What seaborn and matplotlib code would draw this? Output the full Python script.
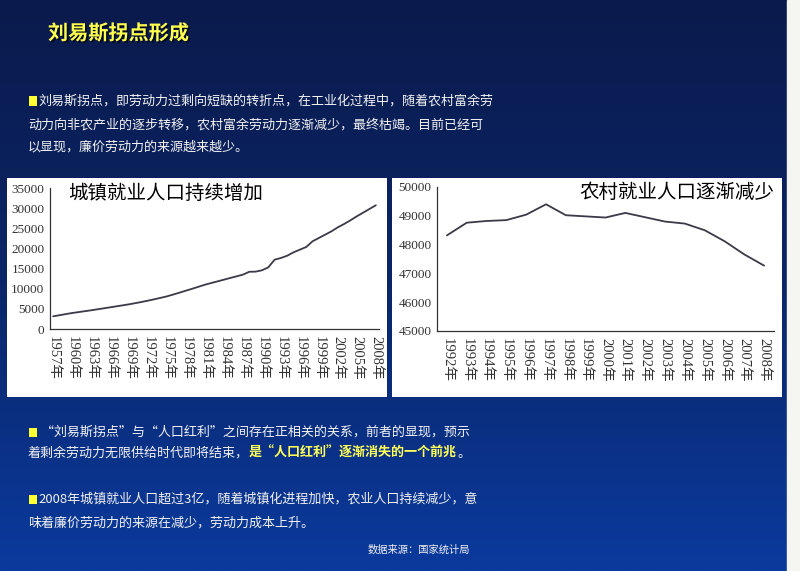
#-------------------------------------------IMPORTS----------------------------------------------------------------
import numpy as np
import matplotlib
matplotlib.use("Agg")
import matplotlib.pyplot as plt
import matplotlib.patheffects as pe
from matplotlib.patches import Rectangle
from matplotlib.colors import LinearSegmentedColormap
import seaborn as sns

#-------------------------------------------DATA--------------------------------------------------------------------
# urban employment (10k persons), 1957-2008
urban_years = list(range(1957, 2009))
urban_values = [3150, 3420, 3700, 3970, 4190, 4420, 4640, 4890, 5130, 5380,
                5630, 5880, 6130, 6420, 6720, 7040, 7380, 7740, 8110, 8570,
                9040, 9520, 10000, 10500, 11000, 11420, 11830, 12250, 12670, 13080,
                13500, 14200, 14240, 14570, 15300, 17200, 17630, 18200, 19040, 19700,
                20360, 21770, 22600, 23430, 24260, 25250, 26080, 26990, 27980, 28890,
                29800, 30710]
urban_labels = [f"{y}年" for y in urban_years[::3]]

# rural employment (10k persons), 1992-2008
rural_years = list(range(1992, 2009))
rural_values = [48320, 48760, 48820, 48850, 49040, 49400, 49020, 48980, 48940,
                49100, 48950, 48800, 48730, 48500, 48120, 47660, 47270]
rural_labels = [f"{y}年" for y in rural_years]

title = "刘易斯拐点形成"
para1 = ["刘易斯拐点，即劳动力过剩向短缺的转折点，在工业化过程中，随着农村富余劳",
         "动力向非农产业的逐步转移，农村富余劳动力逐渐减少，最终枯竭。目前已经可",
         "以显现，廉价劳动力的来源越来越少。"]
para2_line1 = " “刘易斯拐点”与“人口红利”之间存在正相关的关系，前者的显现，预示"
para2_line2 = ["着剩余劳动力无限供给时代即将结束，", "是“人口红利”逐渐消失的一个前兆", "。"]
para3 = ["2008年城镇就业人口超过3亿，随着城镇化进程加快，农业人口持续减少，意",
         "味着廉价劳动力的来源在减少，劳动力成本上升。"]
source = "数据来源：国家统计局"

#-------------------------------------------STYLE-------------------------------------------------------------------
sns.set_style("white")
plt.rcParams['font.family'] = ['Noto Sans CJK SC', 'DejaVu Sans']
CJK = ['Noto Sans CJK SC', 'DejaVu Sans']
SERIF = ['Liberation Serif', 'Noto Sans CJK SC']
W, H = 800, 571
WHITE = '#f2f2f2'
YELLOW = '#ffff5a'

fig = plt.figure(figsize=(8, 5.71), dpi=100)

def fx(px):
    return px / W

def fy(py):
    return 1 - py / H

#-------------------------------------------BACKGROUND--------------------------------------------------------------
bg = fig.add_axes([0, 0, 1, 1], zorder=-10)
grad = np.linspace(0, 1, 256).reshape(-1, 1)
cmap = LinearSegmentedColormap.from_list("slide", ["#0a1a4c", "#0b2668", "#0a3a9e"])
bg.imshow(grad, aspect='auto', cmap=cmap, extent=[0, 1, 0, 1], origin='upper')
bg.add_patch(Rectangle((fx(787), 0), 1, 1, color='#f5f5f2', transform=bg.transAxes))
bg.set_xlim(0, 1)
bg.set_ylim(0, 1)
bg.axis('off')

# white chart panels
for x0, x1 in [(7, 387), (392, 782)]:
    fig.patches.append(Rectangle((fx(x0), fy(397)), fx(x1 - x0), (397 - 178) / H,
                                 transform=fig.transFigure, facecolor='white',
                                 edgecolor='none', zorder=-5))

#-------------------------------------------SLIDE TEXT--------------------------------------------------------------
fig.text(fx(48), fy(33), title, color='#ffff4d', fontsize=14.5, fontweight='bold',
         va='center', family=CJK,
         path_effects=[pe.withSimplePatchShadow(offset=(1.2, -1.2), shadow_rgbFace='black', alpha=0.6)])

def bullet(y):
    fig.patches.append(Rectangle((fx(29), fy(y + 4.5)), fx(8), 9 / H, transform=fig.transFigure,
                                 facecolor='#ffff33', edgecolor='none'))

FS = 9.4
bullet(101)
for i, (line, y) in enumerate(zip(para1, [101, 125, 147])):
    fig.text(fx(38 if i == 0 else 28), fy(y), line, color=WHITE, fontsize=FS, va='center', family=CJK)

bullet(432)
fig.text(fx(38), fy(432), para2_line1, color=WHITE, fontsize=FS, va='center', family=CJK)
t1 = fig.text(fx(28), fy(453), para2_line2[0], color=WHITE, fontsize=FS, va='center', family=CJK)
t2 = fig.text(0, 0.5, para2_line2[1], color=YELLOW, fontsize=FS, fontweight='bold', va='center', family=CJK,
              transform=matplotlib.transforms.blended_transform_factory(fig.transFigure, fig.transFigure))
t2.remove()
t2 = plt.annotate(para2_line2[1], xy=(1, 0.5), xycoords=t1, va='center', ha='left',
                  color=YELLOW, fontsize=FS, fontweight='bold', family=CJK, annotation_clip=False)
plt.annotate(para2_line2[2], xy=(1, 0.5), xycoords=t2, va='center', ha='left',
             color=WHITE, fontsize=FS, family=CJK, annotation_clip=False)

bullet(499)
fig.text(fx(38), fy(499), para3[0], color=WHITE, fontsize=FS, va='center', family=CJK)
fig.text(fx(28), fy(523), para3[1], color=WHITE, fontsize=FS, va='center', family=CJK)

fig.text(fx(368), fy(550), source, color=WHITE, fontsize=7.4, va='center', family=CJK)

#-------------------------------------------CHARTS------------------------------------------------------------------
def style_axis(ax, n, label_pos, labels, tick_pos, ylim, yticks):
    ax.set_xlim(-0.5, n - 0.5)
    ax.set_ylim(*ylim)
    ax.set_yticks(yticks)
    ax.set_yticklabels([str(v) for v in yticks], family=SERIF, fontsize=9.5, color='#333333')
    ax.set_xticks(tick_pos)
    ax.set_xticklabels([])
    ax.set_xticks(label_pos, minor=True)
    ax.set_xticklabels(labels, minor=True, rotation=-90, family=SERIF, fontsize=10.5,
                       color='#333333', va='top', ha='center')
    ax.tick_params(axis='x', which='major', direction='out', length=4, width=0.8, color='#333333')
    ax.tick_params(axis='x', which='minor', length=0, pad=5)
    ax.tick_params(axis='y', direction='in', length=4, width=0.8, color='#333333', pad=4)
    for s in ['top', 'right']:
        ax.spines[s].set_visible(False)
    for s in ['left', 'bottom']:
        ax.spines[s].set_color('#333333')
        ax.spines[s].set_linewidth(0.9)
    ax.set_facecolor('white')
    ax.set_xlabel('')
    ax.set_ylabel('')

# urban
ax1 = fig.add_axes([fx(50), fy(329), fx(379 - 50), (329 - 188) / H])
sns.lineplot(x=np.arange(len(urban_values)), y=urban_values, ax=ax1, color='#3a3a48', lw=1.3)
style_axis(ax1, len(urban_values), np.arange(0, len(urban_values), 3), urban_labels,
           np.arange(2.5, len(urban_values), 3), (0, 35000), list(range(0, 35001, 5000)))
ax1.text(0.055, 0.96, "城镇就业人口持续增加", transform=ax1.transAxes, fontsize=14,
         va='center', ha='left', family=CJK, color='black')

# rural
ax2 = fig.add_axes([fx(437), fy(331), fx(774 - 437), (331 - 187) / H])
sns.lineplot(x=np.arange(len(rural_values)), y=rural_values, ax=ax2, color='#3a3a48', lw=1.3)
style_axis(ax2, len(rural_values), np.arange(len(rural_values)), rural_labels,
           np.arange(0.5, len(rural_values), 1), (45000, 50000), list(range(45000, 50001, 1000)))
ax2.text(1.0, 0.96, "农村就业人口逐渐减少", transform=ax2.transAxes, fontsize=14,
         va='center', ha='right', family=CJK, color='black')

fig.savefig("out.png", dpi=100)
